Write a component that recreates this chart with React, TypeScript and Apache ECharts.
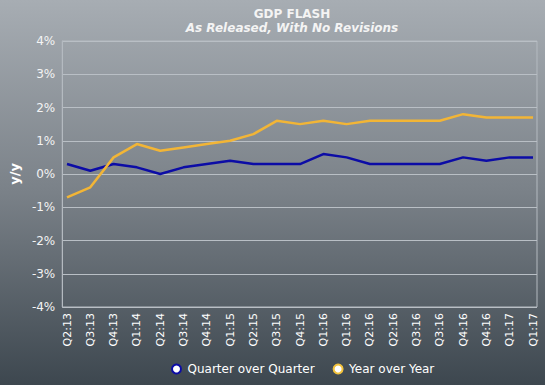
import React, { useEffect, useRef } from "react";
import * as echarts from "echarts";

const categories = [
  "Q2:13", "Q3:13", "Q4:13", "Q1:14", "Q2:14", "Q3:14", "Q4:14", "Q1:15", "Q2:15", "Q3:15",
  "Q4:15", "Q1:16", "Q1:16", "Q2:16", "Q2:16", "Q3:16", "Q3:16", "Q4:16", "Q4:16", "Q1:17", "Q1:17",
];
const qoq = [0.3, 0.1, 0.3, 0.2, 0.0, 0.2, 0.3, 0.4, 0.3, 0.3, 0.3, 0.6, 0.5, 0.3, 0.3, 0.3, 0.3, 0.5, 0.4, 0.5, 0.5];
const yoy = [-0.7, -0.4, 0.5, 0.9, 0.7, 0.8, 0.9, 1.0, 1.2, 1.6, 1.5, 1.6, 1.5, 1.6, 1.6, 1.6, 1.6, 1.8, 1.7, 1.7, 1.7];
const yTicks = [-4, -3, -2, -1, 0, 1, 2, 3, 4];

const FONT = "DejaVu Sans";

export default function App() {
  const ref = useRef<HTMLDivElement>(null);
  useEffect(() => {
    if (!ref.current) return;
    const chart = echarts.init(ref.current, undefined, { renderer: "svg" });
    const top = 41;
    const bottom = 385 - 307;
    chart.setOption({
      animation: false,
      backgroundColor: new echarts.graphic.LinearGradient(0, 0, 0, 1, [
        { offset: 0, color: "#a7adb3" },
        { offset: 0.5, color: "#7a8188" },
        { offset: 1, color: "#3d474f" },
      ]),
      title: [
        {
          text: "GDP FLASH",
          subtext: "As Released, With No Revisions",
          left: 287,
          textAlign: "center",
          top: 3,
          itemGap: 2,
          textStyle: { fontFamily: FONT, fontSize: 12, fontWeight: "bold", color: "#f4f4f4" },
          subtextStyle: { fontFamily: FONT, fontSize: 12, fontWeight: "bold", fontStyle: "italic", color: "#f4f4f4" },
        },
      ],
      legend: {
        bottom: 5,
        left: 166,
        orient: "horizontal",
        itemWidth: 12,
        itemHeight: 9,
        itemGap: 18,
        icon: "circle",
        textStyle: { fontFamily: FONT, fontSize: 12, color: "#ffffff" },
        data: ["Quarter over Quarter", "Year over Year"],
      },
      grid: [
        { left: 62, right: 545 - 537, top, bottom, show: true, borderColor: "#b4bac0", borderWidth: 1, backgroundColor: "transparent" },
        { left: 67, right: 545 - 533, top, bottom },
      ],
      xAxis: [
        { gridIndex: 0, type: "category", data: categories, show: false },
        {
          gridIndex: 1,
          type: "category",
          data: categories,
          boundaryGap: false,
          axisLine: { show: false },
          axisTick: { show: false },
          axisLabel: { rotate: 90, interval: 0, margin: 6, fontFamily: FONT, fontSize: 11, color: "#ffffff" },
        },
      ],
      yAxis: [
        {
          gridIndex: 0,
          type: "value",
          min: yTicks[0],
          max: yTicks[yTicks.length - 1],
          interval: 1,
          name: "y/y",
          nameLocation: "middle",
          nameGap: 38,
          nameRotate: 90,
          nameTextStyle: { fontFamily: FONT, fontSize: 13, fontWeight: "bold", color: "#ffffff" },
          axisLine: { show: true, lineStyle: { color: "#b4bac0" } },
          axisTick: { show: false },
          axisLabel: { formatter: "{value}%", margin: 7, fontFamily: FONT, fontSize: 12, color: "#f4f4f4" },
          splitLine: { lineStyle: { color: "#b9bfc5", width: 1 } },
        },
        {
          gridIndex: 1,
          type: "value",
          min: yTicks[0],
          max: yTicks[yTicks.length - 1],
          interval: 1,
          show: false,
          splitLine: { show: false },
        },
      ],
      series: [
        {
          name: "Quarter over Quarter",
          type: "line",
          xAxisIndex: 1,
          yAxisIndex: 1,
          data: qoq,
          symbol: "none",
          lineStyle: { color: "#0c0ca6", width: 2.5 },
          itemStyle: { color: "#ffffff", borderColor: "#0c0ca6", borderWidth: 3 },
        },
        {
          name: "Year over Year",
          type: "line",
          xAxisIndex: 1,
          yAxisIndex: 1,
          data: yoy,
          symbol: "none",
          lineStyle: { color: "#f2b536", width: 2.5 },
          itemStyle: { color: "#ffffff", borderColor: "#f2c23c", borderWidth: 3 },
        },
      ],
    });
    return () => chart.dispose();
  }, []);
  return <div ref={ref} style={{ width: 545, height: 385, position: "fixed", left: 0, top: 0 }} />;
}
